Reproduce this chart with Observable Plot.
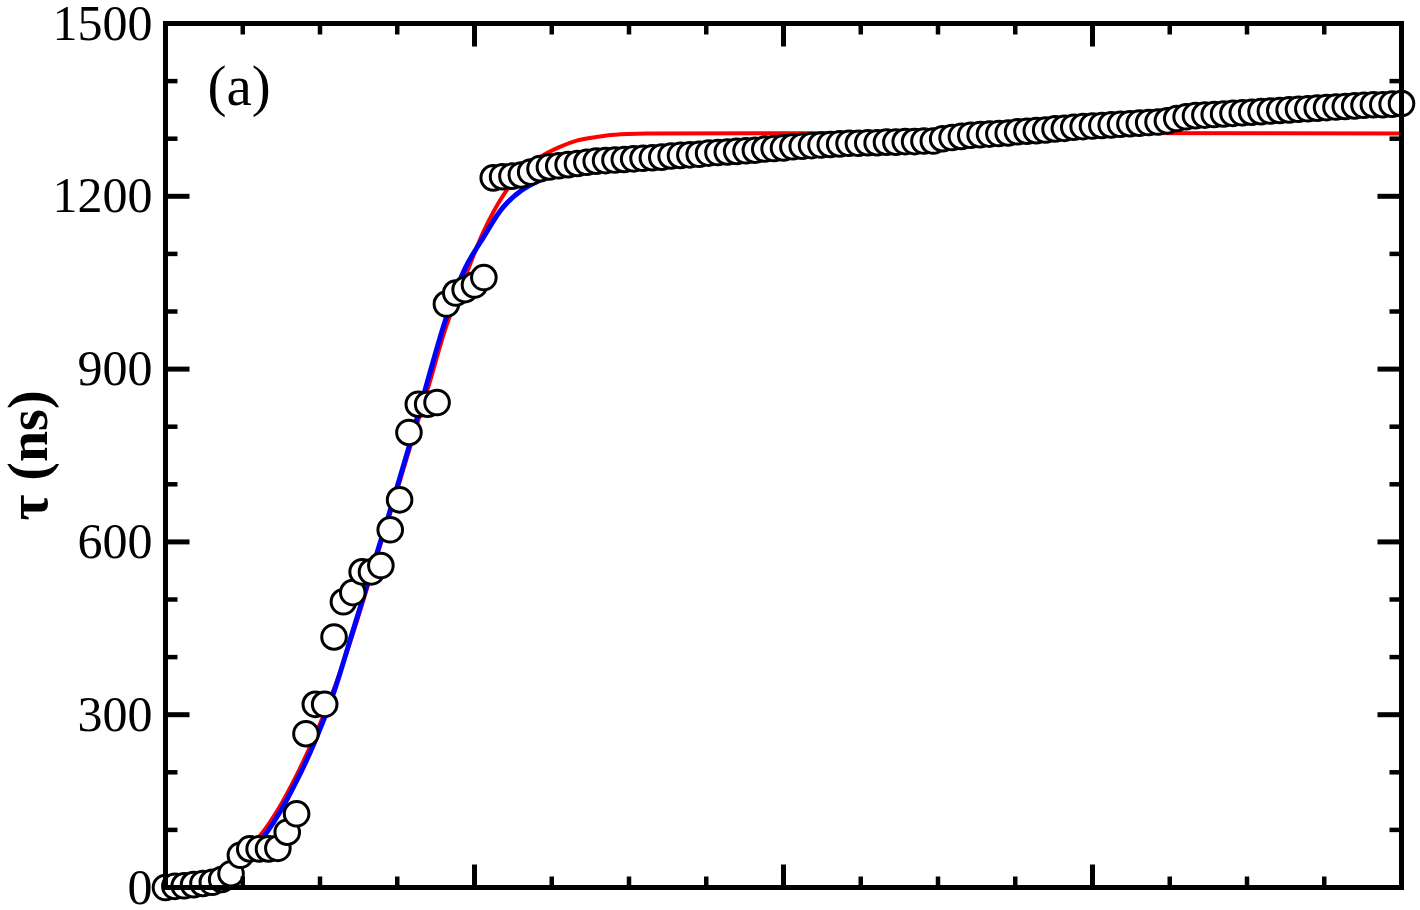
<!DOCTYPE html>
<html>
<head>
<meta charset="utf-8">
<script src="https://cdn.jsdelivr.net/npm/d3@7"></script>
<script src="https://cdn.jsdelivr.net/npm/@observablehq/plot@0.6"></script>
<style>
  html, body { margin: 0; padding: 0; background: #fff; }
  #chart { width: 1420px; height: 910px; }
  #chart svg { overflow: visible; }
</style>
</head>
<body>
<div id="chart"></div>
<script>
// ---- data ----
const sampleIndex = [
  0,1,2,3,4,5,6,7,8,9,10,11,12,13,14,15,16,17,18,19,20,21,22,23,24,25,26,27,28,29,
  30,31,32,33,34,35,36,37,38,39,40,41,42,43,44,45,46,47,48,49,50,51,52,53,54,55,56,57,58,59,
  60,61,62,63,64,65,66,67,68,69,70,71,72,73,74,75,76,77,78,79,80,81,82,83,84,85,86,87,88,89,
  90,91,92,93,94,95,96,97,98,99,100,101,102,103,104,105,106,107,108,109,110,111,112,113,114,115,116,117,118,119,
  120,121,122,123,124,125,126,127,128,129,130,131,132
];
const tauValues = [
  0,2,3,5,7,9,14,24,56,67,67,67,68,96,128,267,318,318,435,496,512,548,548,559,621,673,790,839,839,842,
  1013,1032,1038,1046,1059,1232,1234,1235,1237,1242,1248,1251,1253,1255,1257,1259,1261,1262,1263,1264,1265,1266,1267,1268,1270,1271,1272,1273,1275,1276,
  1277,1278,1279,1280,1282,1283,1284,1286,1287,1288,1289,1290,1291,1292,1292,1293,1293,1294,1294,1295,1295,1296,1296,1300,1302,1304,1306,1307,1308,1309,
  1310,1312,1313,1314,1315,1317,1318,1320,1321,1322,1323,1324,1325,1326,1327,1328,1329,1331,1335,1338,1340,1341,1342,1343,1344,1345,1346,1347,1348,1349,
  1350,1351,1352,1353,1354,1355,1356,1357,1358,1359,1359,1360,1361
];
const redFitX = [0,2,4,6,8,10,12,14,16,18,20,22,24,26,28,30,32,34,36,38,40,42,44,46,48,52,132];
const redFitY = [0,4,12,32,55,88,135,195,265,345,440,545,650,758,865,975,1060,1140,1200,1242,1268,1285,1297,1303,1307,1309,1309];
const blueFitX = [0,4,6,8,10,12,14,16,18,20,22,24,26,28,30,32,34,36,38,40,42,44,46,48];
const blueFitY = [0,10,25,45,78,125,185,255,340,445,550,655,765,880,990,1075,1130,1180,1210,1228,1240,1248,1254,1258];

const yMajorTicks = [0,300,600,900,1200,1500];
const yMinorTicks = [100,200,400,500,700,800,1000,1100,1300,1400];
const xMajorTicks = [33,66,99];
const xMinorTicks = [8.25,16.5,24.75,41.25,49.5,57.75,74.25,82.5,90.75,107.25,115.5,123.75];

const yLabel = "τ (ns)";
const panelLabel = "(a)";

// ---- tables ----
const points = sampleIndex.map((x, i) => ({x, y: tauValues[i]}));
const red = redFitX.map((x, i) => ({x, y: redFitY[i]}));
const blue = blueFitX.map((x, i) => ({x, y: blueFitY[i]}));

// straight tick shape (no arrowhead)
const tickShape = {draw(context, l) { context.moveTo(0, 0); context.lineTo(0, -l); }};
const tickStyle = (len, w) => ({length: len, strokeWidth: w, anchor: "start", shape: tickShape, strokeLinecap: "butt", stroke: "black"});

function yTicksFor(values, len, w) {
  return [
    Plot.vector(values, {x: 0, y: d => d, rotate: 90, ...tickStyle(len, w)}),
    Plot.vector(values, {x: 132, y: d => d, rotate: 270, ...tickStyle(len, w)})
  ];
}
function xTicksFor(values, len, w) {
  return [
    Plot.vector(values, {x: d => d, y: 0, rotate: 0, ...tickStyle(len, w)}),
    Plot.vector(values, {x: d => d, y: 1500, rotate: 180, ...tickStyle(len, w)})
  ];
}

const chart = Plot.plot({
  width: 1420,
  height: 910,
  marginLeft: 165,
  marginRight: 19,
  marginTop: 23,
  marginBottom: 23,
  style: {fontFamily: "'Liberation Serif', 'Times New Roman', serif", background: "white", overflow: "visible"},
  x: {domain: [0, 132], axis: null},
  y: {domain: [0, 1500], axis: null},
  marks: [
    Plot.line(red, {x: "x", y: "y", stroke: "#ff0000", strokeWidth: 4, curve: "catmull-rom"}),
    Plot.line(blue, {x: "x", y: "y", stroke: "#0000ff", strokeWidth: 5, curve: "catmull-rom"}),
    Plot.dot(points, {x: "x", y: "y", r: 12.3, fill: "white", stroke: "black", strokeWidth: 3, clip: false}),
    ...yTicksFor(yMajorTicks, 24, 5),
    ...yTicksFor(yMinorTicks, 12, 4.5),
    ...xTicksFor(xMajorTicks, 23, 5),
    ...xTicksFor(xMinorTicks, 11, 4.5),
    Plot.frame({stroke: "black", strokeWidth: 5}),
    Plot.axisY(yMajorTicks, {anchor: "left", tickSize: 0, tickPadding: 13, fontSize: 50, label: null, tickFormat: d => String(d), fill: "black"}),
    Plot.text([panelLabel], {frameAnchor: "top-left", dx: 42, dy: 63, textAnchor: "start", lineAnchor: "middle", fontSize: 57, fill: "black"}),
    Plot.text([yLabel], {frameAnchor: "left", dx: -136, rotate: -90, textAnchor: "middle", lineAnchor: "middle", fontSize: 56, fontWeight: "bold", fill: "black"})
  ]
});
document.getElementById("chart").appendChild(chart);
</script>
</body>
</html>
